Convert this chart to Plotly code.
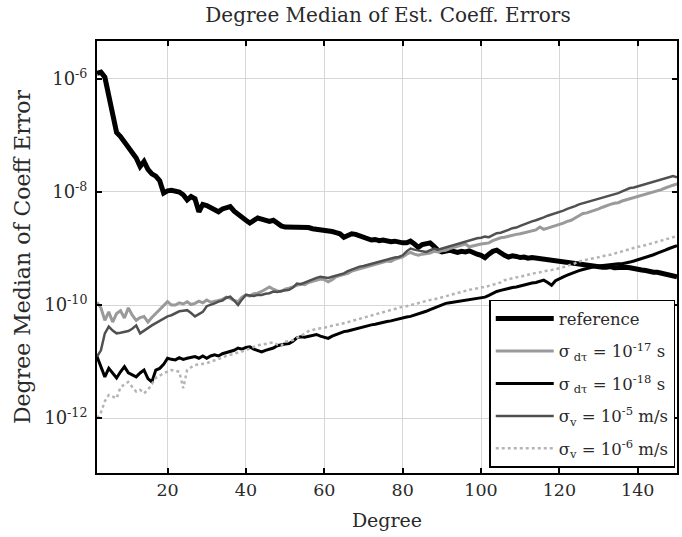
import plotly.graph_objects as go

# Degrees 2..150
degrees = list(range(2, 151))

# log10 of degree median of coefficient error
reference_log10 = [
    -5.90, -5.88, -5.97, -6.30, -6.65, -6.95, -7.02, -7.12, -7.22, -7.30,   # 2-11
    -7.40, -7.55, -7.46, -7.60, -7.68, -7.72, -7.80, -8.02, -7.98, -7.97,   # 12-21
    -7.99, -8.00, -8.05, -8.14, -8.08, -8.12, -8.35, -8.22, -8.24, -8.28,   # 22-31
    -8.33, -8.35, -8.30, -8.27, -8.26, -8.34, -8.40, -8.45, -8.50, -8.55,   # 32-41
    -8.50, -8.46, -8.48, -8.50, -8.52, -8.50, -8.56, -8.60, -8.62, -8.62,   # 42-51
    -8.63, -8.62, -8.64, -8.64, -8.63, -8.65, -8.66, -8.65, -8.67, -8.68,   # 52-61
    -8.70, -8.72, -8.74, -8.80, -8.78, -8.74, -8.75, -8.77, -8.80, -8.82,   # 62-71
    -8.85, -8.84, -8.86, -8.85, -8.87, -8.88, -8.87, -8.89, -8.90, -8.90,   # 72-81
    -8.87, -8.92, -8.98, -8.93, -8.92, -8.90, -8.96, -9.03, -9.06, -9.04,   # 82-91
    -9.03, -9.05, -9.07, -9.05, -9.06, -9.04, -9.08, -9.10, -9.12, -9.16,   # 92-101
    -9.10, -9.05, -9.03, -9.08, -9.12, -9.15, -9.13, -9.14, -9.16, -9.15,   # 102-111
    -9.17, -9.16, -9.17, -9.18, -9.19, -9.20, -9.20, -9.22, -9.23, -9.25,   # 112-121
    -9.26, -9.27, -9.28, -9.29, -9.30, -9.31, -9.31, -9.32, -9.32, -9.33,   # 122-131
    -9.33, -9.32, -9.34, -9.33, -9.34, -9.33, -9.34, -9.36, -9.37, -9.38,   # 132-141
    -9.39, -9.41, -9.42, -9.42, -9.44, -9.45, -9.47, -9.48, -9.50,          # 142-150
]

sigma_dt_17_log10 = [
    -9.95, -10.05, -10.27, -10.12, -10.30, -10.15, -10.10, -10.23, -10.05, -10.18,
    -10.27, -10.22, -10.20, -10.30, -10.22, -10.15, -10.08, -10.02, -9.94, -10.00,
    -10.00, -9.96, -9.98, -9.94, -9.99, -9.97, -9.93, -9.96, -9.91, -9.95,
    -9.94, -9.92, -9.90, -9.86, -9.88, -9.92, -9.94, -9.86, -9.82, -9.84,
    -9.80, -9.79, -9.76, -9.72, -9.68, -9.72, -9.75, -9.76, -9.72, -9.70,
    -9.68, -9.66, -9.63, -9.64, -9.60, -9.58, -9.56, -9.54, -9.55, -9.59,
    -9.55, -9.50, -9.48, -9.46, -9.44, -9.40, -9.38, -9.36, -9.35, -9.33,
    -9.30, -9.29, -9.27, -9.25, -9.22, -9.23, -9.19, -9.17, -9.15, -9.10,
    -9.07, -9.10, -9.12, -9.10, -9.09, -9.08, -9.05, -9.06, -9.04, -9.03,
    -9.00, -8.98, -8.96, -8.93, -8.92, -8.97, -8.95, -8.93, -8.92, -8.91,
    -8.90, -8.86, -8.83, -8.81, -8.80, -8.78, -8.76, -8.75, -8.74, -8.72,
    -8.70, -8.69, -8.67, -8.62, -8.66, -8.64, -8.62, -8.60, -8.58, -8.55,
    -8.52, -8.50, -8.46, -8.42, -8.38, -8.37, -8.35, -8.32, -8.30, -8.27,
    -8.24, -8.22, -8.20, -8.19, -8.16, -8.14, -8.12, -8.10, -8.09, -8.07,
    -8.05, -8.03, -8.00, -7.98, -7.96, -7.93, -7.90, -7.88, -7.86,
]

sigma_dt_18_log10 = [
    -10.91, -11.10, -11.27, -11.12, -11.20, -11.29, -11.18, -11.09, -11.20, -11.24,
    -11.27, -11.20, -11.15, -11.30, -11.36, -11.15, -11.12, -11.05, -10.94, -10.96,
    -10.97, -10.93, -10.96, -10.94, -10.92, -10.91, -10.94, -10.90, -10.94, -10.90,
    -10.88, -10.90, -10.86, -10.84, -10.83, -10.80, -10.76, -10.78, -10.75, -10.74,
    -10.78, -10.80, -10.83, -10.80, -10.78, -10.76, -10.72, -10.70, -10.69, -10.68,
    -10.64, -10.58, -10.56, -10.57, -10.55, -10.53, -10.52, -10.55, -10.57, -10.59,
    -10.55, -10.52, -10.49, -10.47, -10.46, -10.44, -10.42, -10.41, -10.39, -10.37,
    -10.35, -10.34, -10.32, -10.31, -10.29, -10.28, -10.26, -10.24, -10.23, -10.21,
    -10.20, -10.18, -10.16, -10.14, -10.11, -10.08, -10.05, -10.02, -10.00, -9.97,
    -9.96, -9.95, -9.94, -9.93, -9.91, -9.91, -9.89, -9.88, -9.87, -9.86,
    -9.83, -9.79, -9.76, -9.74, -9.72, -9.70, -9.69, -9.68, -9.66, -9.65,
    -9.63, -9.61, -9.60, -9.58, -9.56, -9.60, -9.65, -9.57, -9.53, -9.50,
    -9.47, -9.44, -9.42, -9.39, -9.37, -9.35, -9.33, -9.32, -9.31, -9.30,
    -9.29, -9.29, -9.28, -9.27, -9.27, -9.26, -9.24, -9.22, -9.20, -9.18,
    -9.16, -9.14, -9.11, -9.08, -9.06, -9.03, -9.00, -8.97, -8.95,
]

sigma_v_5_log10 = [
    -10.91, -10.80, -10.50, -10.38, -10.45, -10.50, -10.49, -10.47, -10.46, -10.42,
    -10.36, -10.50, -10.45, -10.40, -10.36, -10.32, -10.28, -10.24, -10.20, -10.18,
    -10.14, -10.11, -10.10, -10.09, -10.14, -10.20, -10.16, -10.12, -10.02, -10.00,
    -9.97, -9.94, -9.92, -9.87, -9.85, -9.92, -10.00, -9.90, -9.82, -9.83,
    -9.84, -9.82, -9.82, -9.80, -9.79, -9.76, -9.77, -9.75, -9.74, -9.73,
    -9.69, -9.62, -9.63, -9.60, -9.57, -9.55, -9.52, -9.50, -9.51, -9.52,
    -9.50, -9.48, -9.46, -9.44, -9.40, -9.37, -9.34, -9.32, -9.31, -9.29,
    -9.27, -9.25, -9.23, -9.22, -9.20, -9.18, -9.16, -9.15, -9.12, -9.05,
    -9.00, -9.02, -9.04, -9.05, -9.06, -9.03, -9.00, -9.02, -9.00, -8.98,
    -8.95, -8.93, -8.91, -8.89, -8.88, -8.85, -8.84, -8.82, -8.81, -8.79,
    -8.80, -8.76, -8.73, -8.72, -8.70, -8.67, -8.64, -8.63, -8.60, -8.57,
    -8.55, -8.52, -8.50, -8.48, -8.45, -8.42, -8.40, -8.37, -8.35, -8.33,
    -8.30, -8.28, -8.25, -8.22, -8.20, -8.19, -8.17, -8.14, -8.12, -8.10,
    -8.08, -8.07, -8.05, -8.02, -7.99, -7.96, -7.93, -7.92, -7.90, -7.88,
    -7.86, -7.84, -7.82, -7.80, -7.78, -7.75, -7.73, -7.72, -7.74,
]

sigma_v_6_log10 = [
    -12.00, -11.90, -11.70, -11.59, -11.62, -11.65, -11.45, -11.40, -11.36, -11.45,
    -11.53, -11.50, -11.56, -11.50, -11.40, -11.29, -11.25, -11.20, -11.18, -11.15,
    -11.16, -11.18, -11.47, -11.15, -11.10, -11.06, -11.05, -11.04, -11.03, -11.00,
    -10.98, -10.96, -10.93, -10.90, -10.88, -10.87, -10.85, -10.83, -10.80, -10.77,
    -10.74, -10.71, -10.70, -10.69, -10.67, -10.66, -10.70, -10.72, -10.65, -10.63,
    -10.62, -10.58, -10.55, -10.50, -10.46, -10.44, -10.42, -10.41, -10.40, -10.38,
    -10.37, -10.35, -10.34, -10.32, -10.31, -10.29, -10.27, -10.25, -10.23, -10.21,
    -10.18, -10.16, -10.14, -10.12, -10.11, -10.09, -10.07, -10.05, -10.03, -10.02,
    -10.00, -9.98, -9.96, -9.95, -9.93, -9.91, -9.90, -9.88, -9.86, -9.85,
    -9.83, -9.80, -9.78, -9.76, -9.74, -9.73, -9.72, -9.70, -9.69, -9.68,
    -9.66, -9.64, -9.62, -9.60, -9.56, -9.54, -9.52, -9.51, -9.50, -9.48,
    -9.46, -9.45, -9.43, -9.42, -9.40, -9.39, -9.38, -9.37, -9.35, -9.33,
    -9.31, -9.29, -9.26, -9.23, -9.21, -9.20, -9.18, -9.17, -9.15, -9.14,
    -9.12, -9.11, -9.09, -9.07, -9.05, -9.03, -9.00, -8.99, -8.97, -8.96,
    -8.94, -8.93, -8.90, -8.89, -8.87, -8.85, -8.82, -8.80, -8.78,
]

series_names = [
    "reference",
    "σ<sub> dτ</sub> = 10<sup>-17</sup> s",
    "σ<sub> dτ</sub> = 10<sup>-18</sup> s",
    "σ<sub>v</sub> = 10<sup>-5</sup> m/s",
    "σ<sub>v</sub> = 10<sup>-6</sup> m/s",
]
series_values = [reference_log10, sigma_dt_17_log10, sigma_dt_18_log10,
                 sigma_v_5_log10, sigma_v_6_log10]

x_tick_values = [20, 40, 60, 80, 100, 120, 140]
y_tick_values = [1e-12, 1e-10, 1e-8, 1e-6]
y_tick_labels = ["10<sup>-12</sup>", "10<sup>-10</sup>", "10<sup>-8</sup>", "10<sup>-6</sup>"]

styles = [
    dict(color="#000000", width=5, dash="solid"),
    dict(color="#9a9a9a", width=3, dash="solid"),
    dict(color="#000000", width=3, dash="solid"),
    dict(color="#505050", width=2.5, dash="solid"),
    dict(color="#b4b4b4", width=2.5, dash="dot"),
]

FONT = "DejaVu Serif"
TXT = "#2a2a2a"

fig = go.Figure()
for i, (name, vals, st) in enumerate(zip(series_names, series_values, styles)):
    fig.add_trace(go.Scatter(
        x=degrees, y=[10 ** v for v in vals], mode="lines", name=name,
        legendgroup=f"g{i}",
        line=dict(color=st["color"], width=st["width"], dash=st["dash"]),
    ))

fig.update_layout(
    width=682, height=537,
    margin=dict(l=97, r=3, t=41, b=64),
    paper_bgcolor="white", plot_bgcolor="white",
    font=dict(family=FONT, color=TXT, size=17),
    title=dict(text="Degree Median of Est. Coeff. Errors", x=(97 + 679) / 2 / 682,
               xanchor="center", y=1 - 15 / 537, yanchor="middle",
               font=dict(family=FONT, size=20, color=TXT)),
    showlegend=True,
    legend=dict(x=0.997, y=0.012, xanchor="right", yanchor="bottom",
                bgcolor="white", bordercolor="#000000", borderwidth=1.5,
                font=dict(family=FONT, size=16.5, color=TXT),
                itemwidth=58, tracegroupgap=8),
)

fig.update_xaxes(
    range=[2, 150], tickvals=x_tick_values, ticks="inside", ticklen=5,
    tickcolor="black", tickwidth=1.5, mirror="allticks", showline=True,
    linecolor="black", linewidth=2, showgrid=True, gridcolor="#d6d6d6",
    gridwidth=1, zeroline=False, tickfont=dict(family=FONT, size=17.5),
    title=dict(text="Degree", font=dict(family=FONT, size=19), standoff=15),
)
fig.update_yaxes(
    type="log", range=[-12.97, -5.33], tickvals=y_tick_values, ticktext=y_tick_labels,
    ticks="inside", ticklen=5, tickcolor="black", tickwidth=1.5, mirror="allticks",
    showline=True, linecolor="black", linewidth=2, showgrid=True,
    gridcolor="#d6d6d6", gridwidth=1, zeroline=False,
    tickfont=dict(family=FONT, size=18), ticklabelstandoff=4,
    title=dict(text="Degree Median of Coeff Error", font=dict(family=FONT, size=22), standoff=8),
)

fig.write_html("out.html")
